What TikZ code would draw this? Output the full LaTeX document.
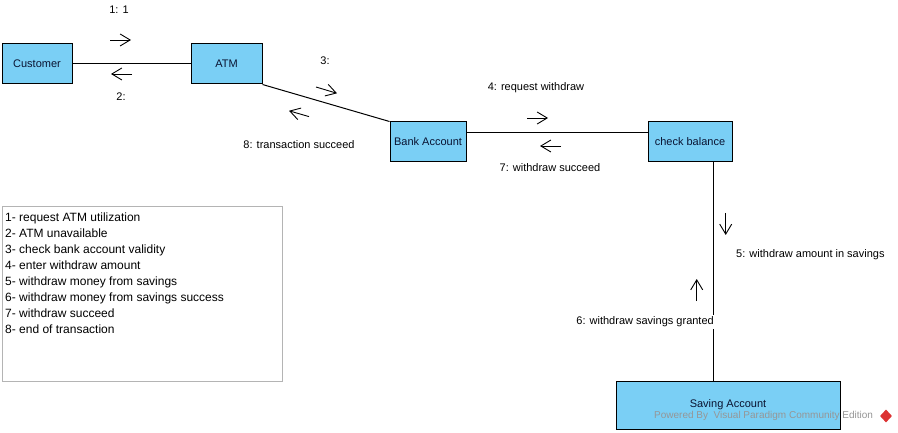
\documentclass[tikz,border=0pt]{standalone}
\usepackage{fontspec}
\setmainfont{Liberation Sans}
\usetikzlibrary{arrows.meta,shapes.geometric}
\definecolor{boxblue}{RGB}{122,207,245}
\definecolor{boxtext}{RGB}{10,20,50}
\definecolor{legendgray}{RGB}{180,180,180}
\definecolor{wmgray}{RGB}{150,150,150}
\definecolor{wmred}{RGB}{220,50,50}
\tikzset{
  objbox/.style={draw=black, line width=1pt, fill=boxblue, inner sep=0pt, text=boxtext,
    font={\fontsize{11}{13}\selectfont}},
  link/.style={draw=black, line width=1pt},
  msg/.style={draw=black, line width=0.9pt, -{Straight Barb[length=10pt,width=12pt,line width=0.9pt]}},
  lbl/.style={font={\fontsize{11}{13}\selectfont}, inner sep=0pt, text=black}
}
\begin{document}
\begin{tikzpicture}[x=1pt,y=-1pt]
\useasboundingbox[fill=white] (0,0) rectangle (898,433);

% objects
\node[objbox, minimum width=70pt, minimum height=40pt] (cust) at (37,64) {Customer};
\node[objbox, minimum width=71pt, minimum height=40pt] (atm) at (226.5,64) {ATM};
\node[objbox, minimum width=76pt, minimum height=40pt] (bank) at (428,142) {Bank Account};
\node[objbox, minimum width=84pt, minimum height=40pt] (chk) at (690,142) {check balance};
\node[objbox, minimum width=224pt, minimum height=48pt] (sav) at (728,405) {Saving Account};

% links
\draw[link] (cust.east) -- (atm.west);
\draw[link] (atm.south east) -- (bank.north west);
\draw[link] ([yshift=9pt]bank.east) -- ([yshift=9pt]chk.west);
\draw[link] ([xshift=23.3pt]chk.south) -- ([xshift=23.3pt]chk.south |- sav.north);

% messages
\draw[msg] (110,40) -- (131,40);
\node[lbl] (l1) at (119,10) {1: 1};
\draw[msg] (132,74) -- (111,74);
\node[lbl] (l2) at (121,97) {2:};

\draw[msg] (316,87) -- (337,93.3);
\node[lbl] (l3) at (325,61) {3:};
\draw[msg] (309,116.6) -- (289,110.8);
\node[lbl] (l8) at (299,145) {8: transaction succeed};

\draw[msg] (527,118) -- (548,118);
\node[lbl] (l4) at (536,88) {4: request withdraw};
\draw[msg] (561,146) -- (540,146);
\node[lbl] (l7) at (550,168) {7: withdraw succeed};

\draw[msg] (725.7,213) -- (725.7,235);
\node[lbl, anchor=west] (l5) at (736,255) {5: withdraw amount in savings};
\draw[msg] (696.7,301) -- (696.7,279);
\node[lbl, anchor=east, fill=white, inner ysep=2pt] (l6) at (714,321.7) {6: withdraw savings granted};

% legend
\draw[legendgray, line width=1pt] (2,207) rectangle (282,381);
\node[anchor=north west, inner sep=0pt, align=left, font={\fontsize{12}{16}\selectfont}] (legend) at (5,213)
{1- request ATM utilization\\
2- ATM unavailable\\
3- check bank account validity\\
4- enter withdraw amount\\
5- withdraw money from savings\\
6- withdraw money from savings success\\
7- withdraw succeed\\
8- end of transaction};

% watermark
\node[anchor=west, inner sep=0pt, text=wmgray, font={\fontsize{10}{12}\selectfont}] (wm) at (654,416) {Powered By\ \ Visual Paradigm Community Edition};
\node[diamond, fill=wmred, minimum width=12pt, minimum height=13pt, inner sep=0pt] (wmicon) at (886,416) {};
\end{tikzpicture}
\end{document}
